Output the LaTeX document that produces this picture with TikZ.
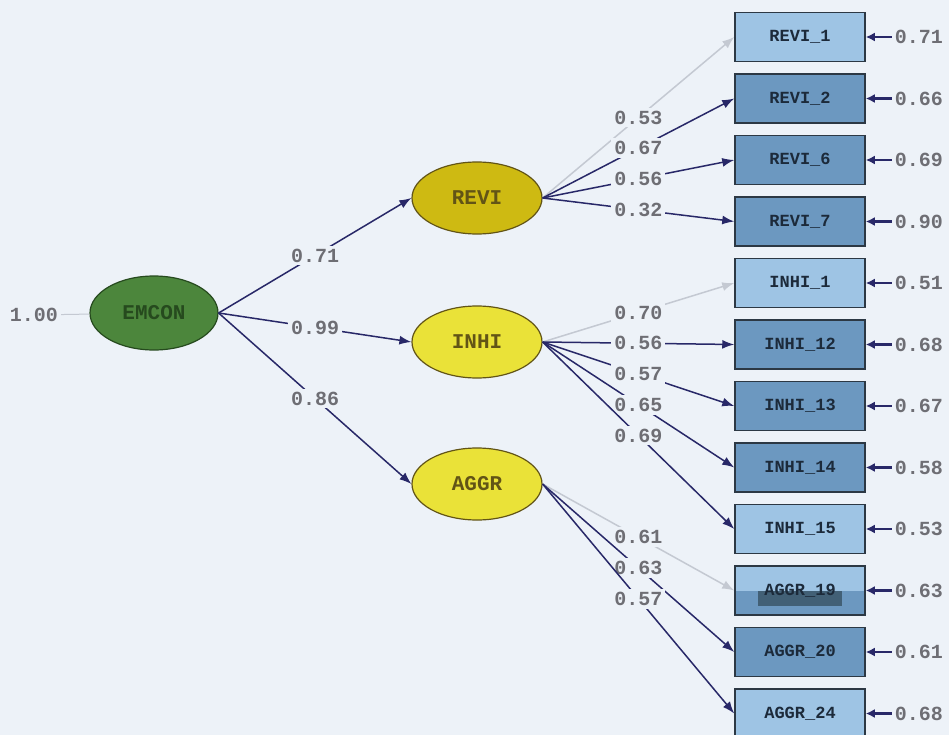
\documentclass[tikz,border=0pt]{standalone}
\usepackage{fontspec}
\setmonofont{Liberation Mono}
\usepackage{xcolor}
\usetikzlibrary{shapes.geometric, arrows.meta, positioning}

\definecolor{bgcol}{RGB}{237,242,248}
\definecolor{navy}{RGB}{40,40,104}
\definecolor{faint}{RGB}{196,201,210}
\definecolor{labgrey}{RGB}{110,110,116}
\definecolor{greenfill}{RGB}{76,134,60}
\definecolor{greenline}{RGB}{38,74,30}
\definecolor{olivefill}{RGB}{206,186,18}
\definecolor{yellowfill}{RGB}{234,226,56}
\definecolor{ellline}{RGB}{98,84,22}
\definecolor{lightbox}{RGB}{158,196,228}
\definecolor{darkbox}{RGB}{108,152,192}
\definecolor{barcol}{RGB}{66,96,118}
\definecolor{boxline}{RGB}{44,56,68}
\definecolor{boxtext}{RGB}{28,42,58}

\begin{document}
\begin{tikzpicture}[x=1pt, y=-1pt, node distance=11pt]
      % Styles
      \tikzset{
        latent/.style={ellipse, draw=ellline, line width=1.2pt, minimum width=130pt, minimum height=72pt, inner sep=0pt, text=ellline, font=\ttfamily\bfseries\fontsize{21}{21}\selectfont},
        factor/.style={latent, fill=greenfill, draw=greenline, text=greenline, minimum width=128pt, minimum height=74pt},
        indicator/.style={rectangle, draw=boxline, line width=1.5pt, minimum width=130pt, minimum height=49pt, inner sep=0pt, text=boxtext, font=\ttfamily\bfseries\fontsize{17}{17}\selectfont},
        lightind/.style={indicator, fill=lightbox},
        darkind/.style={indicator, fill=darkbox},
        coef/.style={fill=bgcol, text=labgrey, inner sep=3pt, font=\ttfamily\bfseries\fontsize{20}{20}\selectfont},
        errlab/.style={coef, fill=none},
        loading/.style={draw=navy, line width=1.5pt, -{Latex[length=12pt, width=9pt]}},
        weak/.style={loading, draw=faint},
        errarrow/.style={draw=navy, line width=2.4pt, -{Latex[length=9pt, width=9pt]}}
      }

      \fill[bgcol] (0,0) rectangle (949,735);
      \useasboundingbox (0,0) rectangle (949,735);

      % Nodes
      \node (emcon) [factor] at (154,313) {EMCON};
      \node (revi) [latent, fill=olivefill] at (477,198) {REVI};
      \node (inhi) [latent, fill=yellowfill] at (477,342) {INHI};
      \node (aggr) [latent, fill=yellowfill] at (477,484) {AGGR};
      \node (evar) [coef] at (34,315) {1.00};

      \node (revi1) [lightind] at (800,37) {REVI\_1};
      \node (revi2) [darkind, below=of revi1] {REVI\_2};
      \node (revi6) [darkind, below=of revi2] {REVI\_6};
      \node (revi7) [darkind, below=of revi6] {REVI\_7};
      \node (inhi1) [lightind, below=of revi7] {INHI\_1};
      \node (inhi12) [darkind, below=of inhi1] {INHI\_12};
      \node (inhi13) [darkind, below=of inhi12] {INHI\_13};
      \node (inhi14) [darkind, below=of inhi13] {INHI\_14};
      \node (inhi15) [lightind, below=of inhi14] {INHI\_15};
      \node (aggr19) [lightind, below=of inhi15, path picture={
          \fill[darkbox] (path picture bounding box.west) rectangle (path picture bounding box.south east);
          \fill[barcol] ([xshift=-42pt]path picture bounding box.center) rectangle ([xshift=42pt, yshift=-15pt]path picture bounding box.center);
        }] {AGGR\_19};
      \node (aggr20) [darkind, below=of aggr19] {AGGR\_20};
      \node (aggr24) [lightind, below=of aggr20] {AGGR\_24};

      \node (e1) [errlab, right=26pt of revi1] {0.71};
      \node (e2) [errlab, right=26pt of revi2] {0.66};
      \node (e3) [errlab, right=26pt of revi6] {0.69};
      \node (e4) [errlab, right=26pt of revi7] {0.90};
      \node (e5) [errlab, right=26pt of inhi1] {0.51};
      \node (e6) [errlab, right=26pt of inhi12] {0.68};
      \node (e7) [errlab, right=26pt of inhi13] {0.67};
      \node (e8) [errlab, right=26pt of inhi14] {0.58};
      \node (e9) [errlab, right=26pt of inhi15] {0.53};
      \node (e10) [errlab, right=26pt of aggr19] {0.63};
      \node (e11) [errlab, right=26pt of aggr20] {0.61};
      \node (e12) [errlab, right=26pt of aggr24] {0.68};

      % Arrows
      \draw [faint, line width=1pt] (evar) -- (emcon);
      \draw [loading] (emcon.east) -- node[coef] (s1) {0.71} (revi.west);
      \draw [loading] (emcon.east) -- node[coef] (s2) {0.99} (inhi.west);
      \draw [loading] (emcon.east) -- node[coef] (s3) {0.86} (aggr.west);

      \draw [weak] (revi.east) -- node[coef] (l1) {0.53} (revi1.west);
      \draw [loading] (revi.east) -- node[coef] (l2) {0.67} (revi2.west);
      \draw [loading] (revi.east) -- node[coef] (l3) {0.56} (revi6.west);
      \draw [loading] (revi.east) -- node[coef] (l4) {0.32} (revi7.west);

      \draw [weak] (inhi.east) -- node[coef] (l5) {0.70} (inhi1.west);
      \draw [loading] (inhi.east) -- node[coef] (l6) {0.56} (inhi12.west);
      \draw [loading] (inhi.east) -- node[coef] (l7) {0.57} (inhi13.west);
      \draw [loading] (inhi.east) -- node[coef] (l8) {0.65} (inhi14.west);
      \draw [loading] (inhi.east) -- node[coef] (l9) {0.69} (inhi15.west);

      \draw [weak] (aggr.east) -- node[coef] (l10) {0.61} (aggr19.west);
      \draw [loading] (aggr.east) -- node[coef] (l11) {0.63} (aggr20.west);
      \draw [loading] (aggr.east) -- node[coef] (l12) {0.57} (aggr24.west);

      \draw [errarrow] (e1) -- (revi1);
      \draw [errarrow] (e2) -- (revi2);
      \draw [errarrow] (e3) -- (revi6);
      \draw [errarrow] (e4) -- (revi7);
      \draw [errarrow] (e5) -- (inhi1);
      \draw [errarrow] (e6) -- (inhi12);
      \draw [errarrow] (e7) -- (inhi13);
      \draw [errarrow] (e8) -- (inhi14);
      \draw [errarrow] (e9) -- (inhi15);
      \draw [errarrow] (e10) -- (aggr19);
      \draw [errarrow] (e11) -- (aggr20);
      \draw [errarrow] (e12) -- (aggr24);
\end{tikzpicture}
\end{document}
